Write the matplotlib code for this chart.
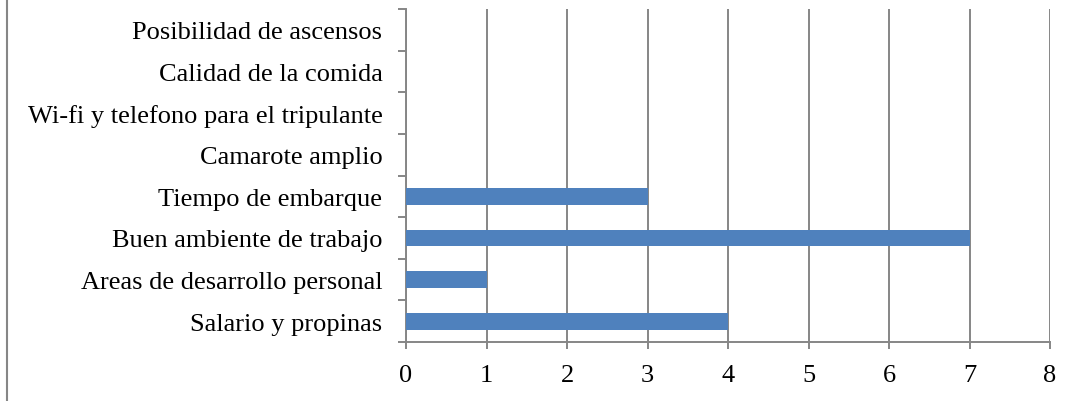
import matplotlib
matplotlib.use("Agg")
import matplotlib.pyplot as plt
from matplotlib.lines import Line2D
import numpy as np

categories = [
    "Salario y propinas",
    "Areas de desarrollo personal",
    "Buen ambiente de trabajo",
    "Tiempo de embarque",
    "Camarote amplio",
    "Wi-fi y telefono para el tripulante",
    "Calidad de la comida",
    "Posibilidad de ascensos",
]
values = [4, 1, 7, 3, 0, 0, 0, 0]
x_ticks = [0, 1, 2, 3, 4, 5, 6, 7, 8]

bar_color = "#4F81BD"
line_color = "#868686"

plt.rcParams["font.family"] = ["Liberation Serif", "DejaVu Serif"]

fig = plt.figure(figsize=(10.77, 4.02), dpi=100)
ax = fig.add_axes([406 / 1077, 1 - 343 / 402, (1050 - 406) / 1077, (343 - 10) / 402])

y = np.arange(len(categories))
ax.barh(y, values, height=0.4, color=bar_color, zorder=3)

ax.set_xlim(0, 8)
ax.set_ylim(-0.5, len(categories) - 0.5)

ax.set_xticks(x_ticks)
ax.set_xticklabels([str(t) for t in x_ticks], fontsize=19)
ax.set_yticks(y)
ax.set_yticklabels(categories, fontsize=19)
ax.set_yticks(np.arange(-0.5, len(categories)), minor=True)

ax.tick_params(axis="y", which="major", length=0, pad=17)
ax.tick_params(axis="y", which="minor", length=6, width=1.4, color=line_color, direction="out")
ax.tick_params(axis="x", which="major", length=5, width=1.4, color=line_color, direction="out", pad=11)

for spine in ("top", "right"):
    ax.spines[spine].set_visible(False)
for spine in ("left", "bottom"):
    ax.spines[spine].set_color(line_color)
    ax.spines[spine].set_linewidth(1.4)

ax.xaxis.grid(True, color=line_color, linewidth=1.4, zorder=0)
ax.set_axisbelow(True)

fig.add_artist(Line2D([7 / 1077, 7 / 1077], [0, 1], transform=fig.transFigure,
                      color=line_color, linewidth=1.5))

fig.savefig("out.png", dpi=100)
